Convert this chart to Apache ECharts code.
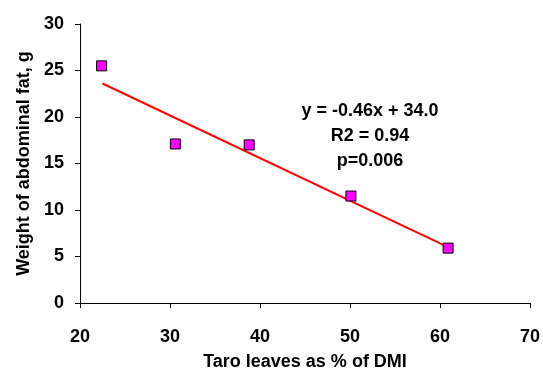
<!DOCTYPE html>
<html>
<head>
<meta charset="utf-8">
<script src="https://cdn.jsdelivr.net/npm/echarts@6/dist/echarts.min.js"></script>
<style>
  html, body { margin: 0; padding: 0; background: #fff; }
  #main { width: 543px; height: 376px; }
</style>
</head>
<body>
<div id="main"></div>
<script>
const taroPct = [22.4, 30.6, 38.8, 50.1, 60.9]
const fatWeight = [25.5, 17.1, 17.0, 11.5, 5.9]
// fitted line end points
const fitX = [22.5, 60.9]
const fitY = [23.6, 6.0]
const statsText = ['y = -0.46x + 34.0', 'R2 = 0.94', 'p=0.006']

const font = 'Arial'
const chart = echarts.init(document.getElementById('main'))

// tick labels via rich text so the bold weight sticks
const tickLabel = (margin) => ({
  formatter: '{b|{value}}',
  margin: margin,
  rich: { b: { fontFamily: font, fontWeight: 'bold', fontSize: 18, color: '#000' } }
})

const option = {
  animation: false,
  grid: { left: 80, right: 13, top: 24, bottom: 73 },
  xAxis: {
    type: 'value',
    min: 20, max: 70, interval: 10,
    name: 'Taro leaves as % of DMI',
    nameLocation: 'middle',
    nameGap: 50,
    nameTextStyle: { fontFamily: font, fontWeight: 700, fontSize: 18, color: '#000' },
    splitLine: { show: false },
    axisLine: { lineStyle: { color: '#000', width: 1 } },
    axisTick: { show: true, length: 5, lineStyle: { color: '#000' } },
    axisLabel: tickLabel(25)
  },
  yAxis: {
    type: 'value',
    min: 0, max: 30, interval: 5,
    name: 'Weight of abdominal fat, g',
    nameLocation: 'middle',
    nameGap: 43,
    nameTextStyle: { fontFamily: font, fontWeight: 700, fontSize: 18, color: '#000' },
    splitLine: { show: false },
    axisLine: { show: true, lineStyle: { color: '#000', width: 1 } },
    axisTick: { show: true, length: 5, lineStyle: { color: '#000' } },
    axisLabel: tickLabel(16)
  },
  series: [
    {
      type: 'line',
      data: fitX.map((x, i) => [x, fitY[i]]),
      symbol: 'none',
      lineStyle: { color: '#ff0000', width: 2 },
      z: 2
    },
    {
      type: 'scatter',
      data: taroPct.map((x, i) => [x, fatWeight[i]]),
      symbol: 'rect',
      symbolSize: 10,
      itemStyle: { color: '#ff00ff', borderColor: '#000', borderWidth: 1, opacity: 1 },
      z: 3
    }
  ],
  graphic: [{
    type: 'text',
    x: 370, y: 99,
    style: {
      text: statsText.join('\n'),
      fontFamily: font,
      fontWeight: 700,
      fontSize: 18,
      fill: '#000',
      textAlign: 'center',
      lineHeight: 25
    }
  }]
}
chart.setOption(option)
</script>
</body>
</html>
